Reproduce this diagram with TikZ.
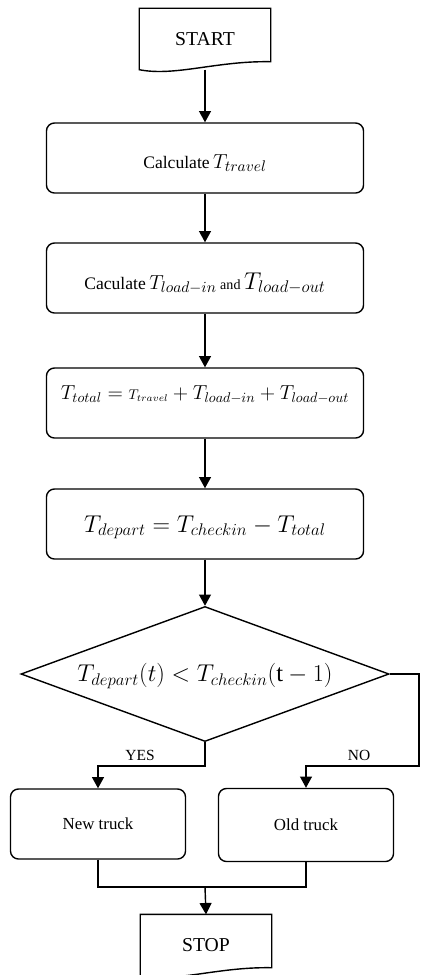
\documentclass[tikz,border=0pt]{standalone}
\usepackage{amsmath}
\usepackage{fontspec}
\setmainfont{Liberation Serif}
\usetikzlibrary{arrows.meta,shapes.geometric,calc}

\newcommand{\onbase}[2]{\raisebox{#1}[0pt][0pt]{#2}}

\begin{document}
\begin{tikzpicture}[
  x=0.025cm, y=-0.025cm,
  line width=1pt,
  process/.style={draw, rounded corners=0.2cm, minimum width=7.925cm, minimum height=1.75cm, inner sep=0pt},
  choice/.style={draw, diamond, aspect=2.73, minimum width=9.2cm, minimum height=3.375cm, inner sep=0pt},
  truck/.style={draw, rounded corners=0.2cm, minimum width=4.375cm, minimum height=1.75cm, font=\fontsize{12}{14}\selectfont},
  terminal/.style={minimum width=3.25cm, minimum height=1.5cm, inner sep=0pt, font=\fontsize{14}{16}\selectfont},
  tag/.style={font=\fontsize{11}{13}\selectfont},
  >={Triangle[length=8pt,width=8.5pt]}
]
  \useasboundingbox (0,0) rectangle (421,975);

  % Start and stop (document shape)
  \node[terminal] (start) at (205,39) {START};
  \node[terminal] (stop) at (206,945) {STOP};
  \foreach \n in {start,stop} {
    \draw (\n.north west) -- (\n.north east) -- ($(\n.south east)+(0,-8)$)
      .. controls ($(\n.south east)+(-54,-9)$) and ($(\n.south west)+(36,7)$) .. (\n.south west) -- cycle;
  }

  % Process steps
  \node[process] (b1) at (205,158) {\onbase{-0.25cm}{{\fontsize{12.5}{14}\selectfont Calculate} {\fontsize{15}{17}\selectfont$T_{travel}$}}};
  \node[process] (b2) at (205,278) {\onbase{-0.28cm}{{\fontsize{12.5}{14}\selectfont Caculate} {\fontsize{15}{17}\selectfont$T_{load-in}$} {\fontsize{10}{12}\selectfont and} {\fontsize{18}{20}\selectfont$T_{load-out}$}}};
  \node[process] (b3) at (205,403) {\onbase{0.08cm}{\fontsize{14}{16}\selectfont$T_{total} = {\scriptstyle T_{travel}} + T_{load-in} + T_{load-out}$}};
  \node[process] (b4) at (205,524) {\onbase{-0.2cm}{\fontsize{17.5}{20}\selectfont$T_{depart} = T_{checkin} - T_{total}$}};

  % Decision
  \node[choice] (d) at (205,674) {\onbase{-0.19cm}{\fontsize{17.4}{19}\selectfont$T_{depart}(t) < T_{checkin}(\mathrm{t}-1)$}};

  % Outcomes
  \node[truck] (nt) at (98,824) {New truck};
  \node[truck, minimum height=1.825cm] (ot) at (306,825) {Old truck};

  \draw[->] (start.south) -- (b1);
  \draw[->] (b1) -- (b2);
  \draw[->] (b2) -- (b3);
  \draw[->] (b3) -- (b4);
  \draw[->] (b4) -- (d);

  % Branches
  \coordinate (split) at (205,766);
  \coordinate (edge) at (419,674);
  \coordinate (join) at (205,887);
  \draw[->] (d.south) -- (split) -| (nt.north);
  \draw[->] (d.east) -- (edge) -- (edge |- split) -| (ot.north);
  \node[tag] (yes) at (140,755) {YES};
  \node[tag] (no) at (359,755) {NO};

  \draw (nt.south) |- (join) -| (ot.south);
  \draw[->] (join) -- (stop.north);
\end{tikzpicture}
\end{document}
